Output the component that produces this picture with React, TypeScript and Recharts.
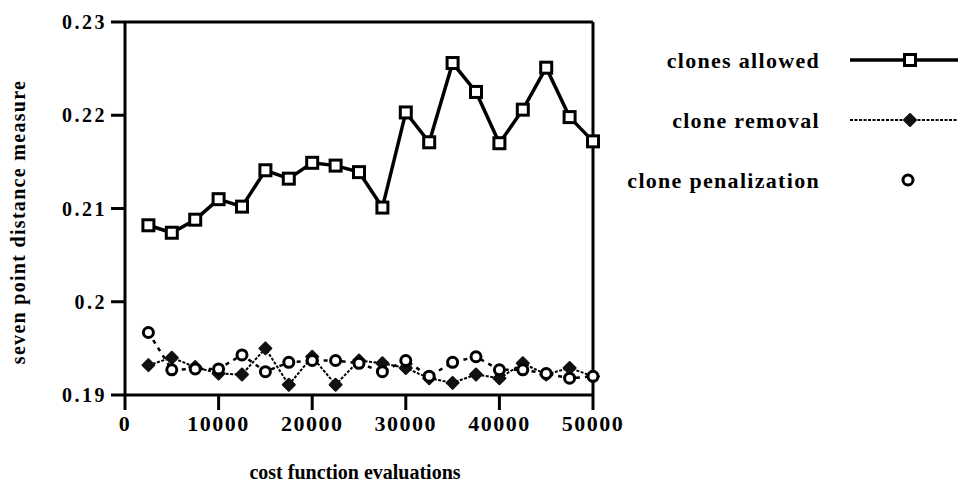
import { LineChart, Line, XAxis, YAxis, ReferenceLine, Label } from 'recharts'

const evaluations = [
    2500, 5000, 7500, 10000, 12500, 15000, 17500, 20000, 22500, 25000, 27500,
    30000, 32500, 35000, 37500, 40000, 42500, 45000, 47500, 50000,
]
const clonesAllowed = [
    0.2082, 0.2074, 0.2088, 0.211, 0.2102, 0.2141, 0.2132, 0.2149, 0.2146,
    0.2139, 0.2101, 0.2203, 0.2171, 0.2256, 0.2225, 0.217, 0.2206, 0.2251,
    0.2198, 0.2172,
]
const cloneRemoval = [
    0.1932, 0.194, 0.193, 0.1923, 0.1922, 0.195, 0.1911, 0.1941, 0.1911, 0.1937,
    0.1934, 0.1929, 0.1918, 0.1913, 0.1922, 0.1918, 0.1934, 0.1922, 0.1929,
    0.192,
]
const clonePenalization = [
    0.1967, 0.1927, 0.1928, 0.1928, 0.1943, 0.1925, 0.1935, 0.1937, 0.1937,
    0.1934, 0.1925, 0.1937, 0.192, 0.1935, 0.1941, 0.1927, 0.1927, 0.1923,
    0.1918, 0.192,
]
const xTicks = [0, 10000, 20000, 30000, 40000, 50000]
const yTicks = [0.19, 0.2, 0.21, 0.22, 0.23]
const legendLabels = ['clones allowed', 'clone removal', 'clone penalization']

const data = evaluations.map((x, i) => ({
    x,
    allowed: clonesAllowed[i],
    removal: cloneRemoval[i],
    penalization: clonePenalization[i],
}))

const FONT = '"Liberation Serif", "DejaVu Serif", serif'

const Square = (props: any) => {
    const { cx, cy } = props
    if (cx == null || cy == null) return null
    return (
        <rect x={cx - 5.5} y={cy - 5.5} width={11} height={11} fill="#fff" stroke="#000" strokeWidth={3} />
    )
}

const Diamond = (props: any) => {
    const { cx, cy } = props
    if (cx == null || cy == null) return null
    const r = 6
    return (
        <polygon
            points={`${cx},${cy - r} ${cx + r},${cy} ${cx},${cy + r} ${cx - r},${cy}`}
            fill="#111"
            stroke="#111"
            strokeWidth={2}
            strokeLinejoin="round"
        />
    )
}

const Circle = (props: any) => {
    const { cx, cy } = props
    if (cx == null || cy == null) return null
    return <circle cx={cx} cy={cy} r={5} fill="#fff" stroke="#000" strokeWidth={3} />
}

const fmtY = (v: number) => String(Number(v.toFixed(2)))

const ChartLegend = () => {
    const rows = [30, 90, 150]
    return (
        <svg width={358} height={170} style={{ position: 'absolute', left: 600, top: 30 }}>
            {legendLabels.map((l, i) => (
                <text
                    key={l}
                    x={220}
                    y={rows[i]}
                    textAnchor="end"
                    dominantBaseline="central"
                    fontFamily={FONT}
                    fontWeight="bold"
                    fontSize={22}
                    letterSpacing={1.3}
                    fill="#000"
                >
                    {l}
                </text>
            ))}
            <line x1={250} x2={358} y1={rows[0]} y2={rows[0]} stroke="#000" strokeWidth={3.5} />
            <Square cx={310} cy={rows[0]} />
            <line x1={250} x2={358} y1={rows[1]} y2={rows[1]} stroke="#000" strokeWidth={2} strokeDasharray="3 1.5" />
            <Diamond cx={310} cy={rows[1]} />
            <Circle cx={308} cy={rows[2]} />
        </svg>
    )
}

const App = () => {
    return (
        <div style={{ position: 'absolute', left: 0, top: 0, width: 958, height: 486, background: '#fff' }}>
            <LineChart
                width={958}
                height={486}
                data={data}
                margin={{ top: 22, right: 365, bottom: 0, left: 0 }}
            >
                <XAxis
                    dataKey="x"
                    type="number"
                    domain={[0, 50000]}
                    ticks={xTicks}
                    height={91}
                    tickSize={15}
                    tickMargin={5}
                    stroke="#000"
                    strokeWidth={3}
                    tick={{ fill: '#000', fontFamily: FONT, fontWeight: 'bold', fontSize: 22, letterSpacing: 1.5 }}
                >
                    <Label
                        content={() => (
                            <text
                                x={355}
                                y={472}
                                textAnchor="middle"
                                dominantBaseline="central"
                                fontFamily={FONT}
                                fontWeight="bold"
                                fontSize={20}
                                fill="#000"
                            >
                                cost function evaluations
                            </text>
                        )}
                    />
                </XAxis>
                <YAxis
                    type="number"
                    domain={[0.19, 0.23]}
                    ticks={yTicks}
                    tickFormatter={fmtY}
                    width={125}
                    tickSize={14}
                    tickMargin={4}
                    stroke="#000"
                    strokeWidth={3}
                    tick={{ fill: '#000', fontFamily: FONT, fontWeight: 'bold', fontSize: 20, letterSpacing: 2.5 }}
                >
                    <Label
                        content={() => (
                            <text
                                x={18}
                                y={222}
                                transform="rotate(-90, 18, 222)"
                                textAnchor="middle"
                                dominantBaseline="central"
                                fontFamily={FONT}
                                fontWeight="bold"
                                fontSize={20}
                                letterSpacing={1.3}
                                fill="#000"
                            >
                                seven point distance measure
                            </text>
                        )}
                    />
                </YAxis>
                <ReferenceLine y={0.23} stroke="#000" strokeWidth={3} />
                <ReferenceLine x={50000} stroke="#000" strokeWidth={3} />
                <Line
                    dataKey="removal"
                    stroke="#000"
                    strokeWidth={2}
                    strokeDasharray="3 1.5"
                    dot={<Diamond />}
                    isAnimationActive={false}
                />
                <Line
                    dataKey="penalization"
                    stroke="#000"
                    strokeWidth={2.5}
                    strokeDasharray="4 5"
                    dot={<Circle />}
                    isAnimationActive={false}
                />
                <Line
                    dataKey="allowed"
                    stroke="#000"
                    strokeWidth={3.5}
                    dot={<Square />}
                    isAnimationActive={false}
                />
            </LineChart>
            <ChartLegend />
        </div>
    )
}

export default App
